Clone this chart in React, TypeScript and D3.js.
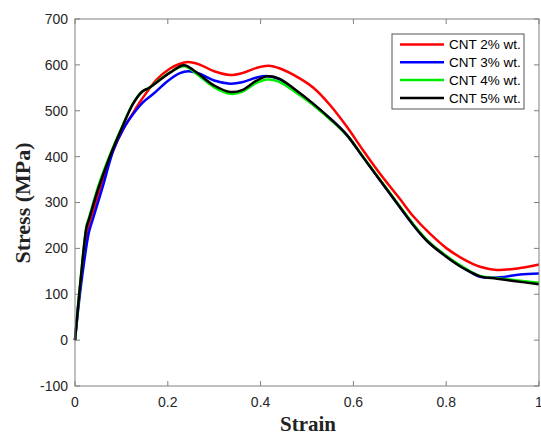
import React from "react";
import * as d3 from "d3";

const W = 541;
const H = 436;

const seriesNames = ["CNT 2% wt.", "CNT 3% wt.", "CNT 4% wt.", "CNT 5% wt."];
const seriesColors = ["#ff0000", "#0000ff", "#00ee00", "#000000"];

const xTicks = [0, 0.2, 0.4, 0.6, 0.8, 1];
const xTickLabels = ["0", "0.2", "0.4", "0.6", "0.8", "1"];
const yTicks = [-100, 0, 100, 200, 300, 400, 500, 600, 700];
const yTickLabels = ["-100", "0", "100", "200", "300", "400", "500", "600", "700"];

const redStrain = [0, 0.012, 0.027, 0.033, 0.055, 0.08, 0.104, 0.125, 0.144, 0.176, 0.205, 0.225, 0.244, 0.27, 0.3, 0.334, 0.36, 0.39, 0.417, 0.442, 0.485, 0.515, 0.55, 0.586, 0.62, 0.657, 0.7, 0.729, 0.765, 0.801, 0.84, 0.873, 0.909, 0.959, 1.0];
const redStress = [0, 125, 240, 262, 330, 408, 460, 495, 525, 568, 592, 602, 606, 600, 586, 578, 582, 593, 598, 592, 570, 549, 512, 465, 415, 363, 308, 270, 232, 200, 175, 160, 153, 157, 165];

const blueStrain = [0, 0.013, 0.03, 0.038, 0.06, 0.083, 0.105, 0.126, 0.147, 0.169, 0.2, 0.226, 0.245, 0.27, 0.3, 0.334, 0.36, 0.39, 0.413, 0.44, 0.485, 0.514, 0.55, 0.586, 0.62, 0.657, 0.7, 0.729, 0.76, 0.8, 0.84, 0.873, 0.916, 0.959, 1.0];
const blueStress = [0, 120, 235, 262, 335, 415, 462, 494, 519, 537, 565, 582, 586, 580, 566, 559, 562, 572, 576, 569, 537, 513, 483, 447, 400, 349, 290, 251, 215, 183, 156, 138, 137, 143, 145];

const greenStrain = [0, 0.012, 0.025, 0.03, 0.05, 0.075, 0.1, 0.125, 0.145, 0.16, 0.18, 0.205, 0.235, 0.26, 0.3, 0.335, 0.36, 0.39, 0.415, 0.44, 0.48, 0.514, 0.55, 0.586, 0.62, 0.657, 0.7, 0.729, 0.76, 0.8, 0.84, 0.873, 0.91, 0.945, 1.0];
const greenStress = [0, 132, 250, 266, 335, 403, 462, 516, 542, 550, 566, 584, 597, 582, 551, 537, 541, 560, 568, 563, 537, 512, 481, 447, 401, 350, 292, 253, 217, 184, 157, 140, 135, 131, 125];

const blackStrain = [0, 0.012, 0.025, 0.03, 0.05, 0.075, 0.1, 0.125, 0.145, 0.16, 0.18, 0.205, 0.235, 0.26, 0.3, 0.335, 0.36, 0.39, 0.415, 0.44, 0.48, 0.514, 0.55, 0.586, 0.62, 0.657, 0.7, 0.729, 0.76, 0.8, 0.84, 0.873, 0.91, 0.945, 1.0];
const blackStress = [0, 130, 247, 263, 330, 400, 460, 515, 542, 550, 565, 583, 599, 585, 555, 541, 545, 565, 575, 570, 542, 515, 483, 447, 400, 349, 290, 251, 215, 182, 155, 139, 134, 129, 122];

const allStrain = [redStrain, blueStrain, greenStrain, blackStrain];
const allStress = [redStress, blueStress, greenStress, blackStress];

const M = { left: 75, right: 539, top: 19, bottom: 386 };

export default function App() {
  const x = d3.scaleLinear().domain([0, 1]).range([M.left, M.right]);
  const y = d3.scaleLinear().domain([-100, 700]).range([M.bottom, M.top]);
  const line = d3
    .line<[number, number]>()
    .x((d) => x(d[0]))
    .y((d) => y(d[1]))
    .curve(d3.curveCatmullRom.alpha(0.5));

  const axisColor = "#808080";
  const tickFont = "'Liberation Sans', Arial, sans-serif";
  const titleFont = "'Liberation Serif', 'Times New Roman', serif";
  const tickLen = 5;

  const legX = 392;
  const legY = 34;
  const legW = 132;
  const legH = 75;

  return (
    <svg
      width={W}
      height={H}
      style={{ position: "absolute", left: 0, top: 0, background: "#fff" }}
    >
      <rect x={0} y={0} width={W} height={H} fill="#fff" />
      {xTicks.map((t, i) => (
        <g key={"xt" + i}>
          <line x1={x(t)} x2={x(t)} y1={M.bottom} y2={M.bottom - tickLen} stroke={axisColor} />
          <line x1={x(t)} x2={x(t)} y1={M.top} y2={M.top + tickLen} stroke={axisColor} />
          <text
            x={x(t)}
            y={M.bottom + 21}
            textAnchor="middle"
            fontFamily={tickFont}
            fontSize={14}
            fill="#262626"
          >
            {xTickLabels[i]}
          </text>
        </g>
      ))}
      {yTicks.map((t, i) => (
        <g key={"yt" + i}>
          <line x1={M.left} x2={M.left + tickLen} y1={y(t)} y2={y(t)} stroke={axisColor} />
          <line x1={M.right} x2={M.right - tickLen} y1={y(t)} y2={y(t)} stroke={axisColor} />
          <text
            x={68}
            y={y(t)}
            dy="0.35em"
            textAnchor="end"
            fontFamily={tickFont}
            fontSize={14}
            fill="#262626"
          >
            {yTickLabels[i]}
          </text>
        </g>
      ))}
      {allStrain.map((xs, si) => {
        const pts: [number, number][] = xs.map((v, j) => [v, allStress[si][j]]);
        return (
          <path
            key={"s" + si}
            d={line(pts) || ""}
            fill="none"
            stroke={seriesColors[si]}
            strokeWidth={2.5}
            strokeLinejoin="round"
          />
        );
      })}
      <rect
        x={M.left}
        y={M.top}
        width={M.right - M.left}
        height={M.bottom - M.top}
        fill="none"
        stroke={axisColor}
        strokeWidth={1}
      />
      <rect x={legX} y={legY} width={legW} height={legH} fill="#fff" stroke="#555" strokeWidth={1} />
      {seriesNames.map((n, i) => {
        const ly = legY + 10.5 + i * 17.8;
        return (
          <g key={"l" + i}>
            <line x1={400} x2={444} y1={ly} y2={ly} stroke={seriesColors[i]} strokeWidth={2.5} />
            <text x={449} y={ly} dy="0.35em" fontFamily={tickFont} fontSize={13.5} fill="#000">
              {n}
            </text>
          </g>
        );
      })}
      <text
        x={(M.left + M.right) / 2 + 1}
        y={431}
        textAnchor="middle"
        fontFamily={titleFont}
        fontWeight="bold"
        fontSize={21}
        fill="#222"
      >
        Strain
      </text>
      <text
        transform={`translate(30, 203) rotate(-90)`}
        textAnchor="middle"
        fontFamily={titleFont}
        fontWeight="bold"
        fontSize={22}
        fill="#222"
      >
        Stress (MPa)
      </text>
    </svg>
  );
}
